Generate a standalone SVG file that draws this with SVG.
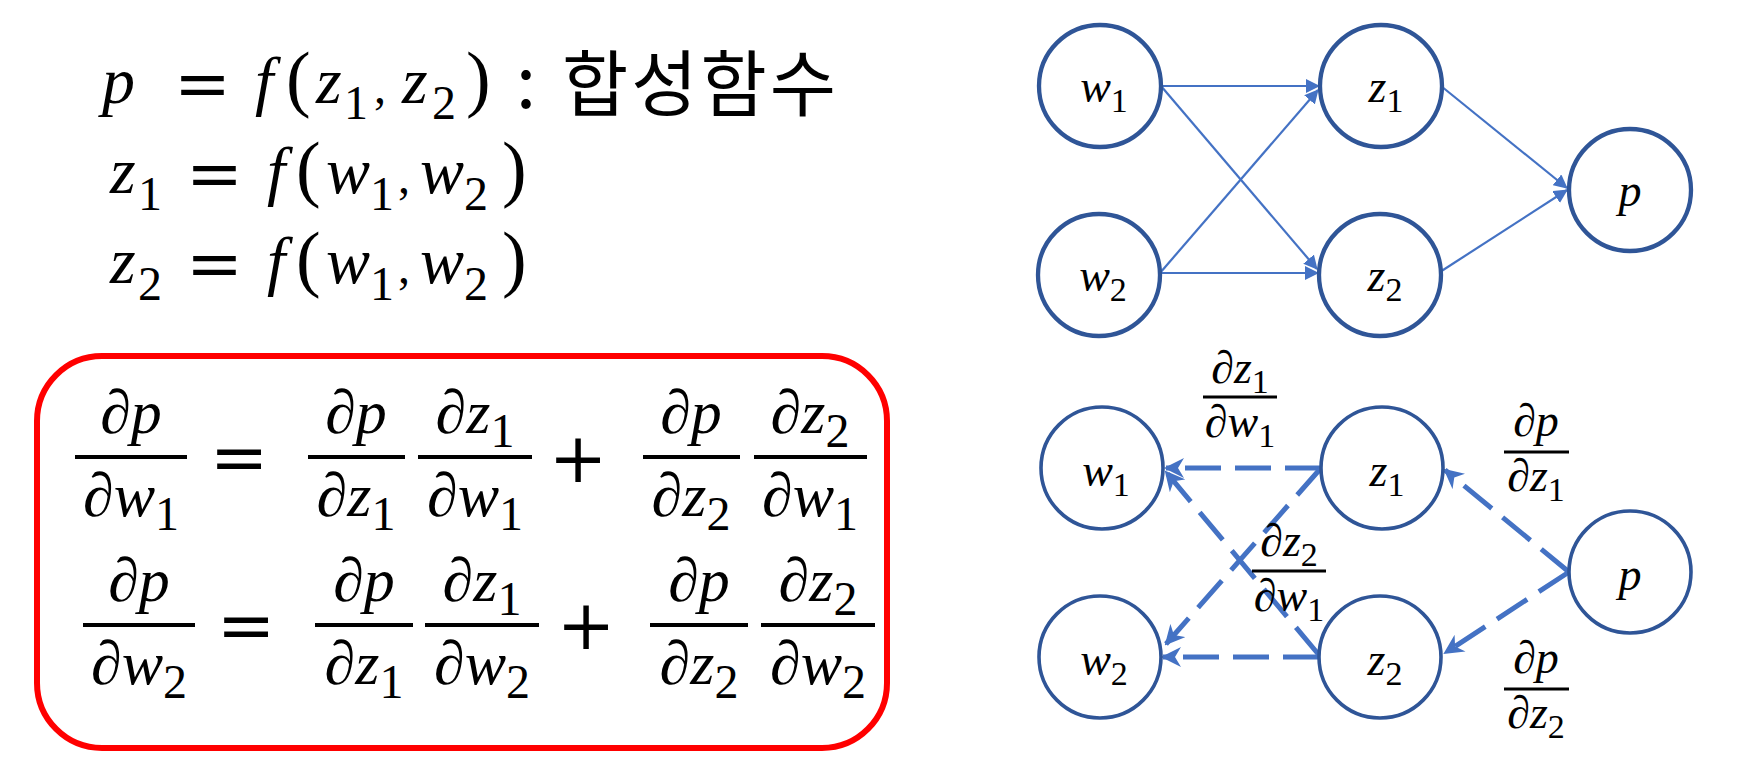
<svg xmlns="http://www.w3.org/2000/svg" width="1744" height="763" viewBox="0 0 1744 763">
<style>
.m{font-family:"Liberation Serif","Times New Roman",serif;fill:#000}
.i{font-style:italic}
.t1{font-size:66px}
.s1{font-size:48px;font-style:normal}
.pr{font-size:74px;font-style:normal}
.eq{font-family:"DejaVu Serif",serif;font-size:68px;font-style:normal}
.fr{font-size:62px}
.fs{font-size:46px}
.lb{font-size:46px}
.sb{font-size:34px;font-style:normal}
.kr{font-family:"Noto Sans CJK KR","Noto Sans",sans-serif;font-size:72px;fill:#000}
.node{fill:#fff;stroke:#2F5597}
.top .node{stroke-width:4.3}
.bot .node{stroke-width:3.6}
.e{fill:none;stroke:#4472C4;stroke-width:2.2}
.d{fill:none;stroke:#4472C4;stroke-width:5;stroke-dasharray:36 14}
.bar{stroke:#000;stroke-width:4}
.bar2{stroke:#000;stroke-width:3}
</style>
<defs>
<marker id="ah" markerUnits="userSpaceOnUse" markerWidth="14" markerHeight="14" refX="13" refY="7" orient="auto"><path d="M0,0 L14,7 L0,14 Z" fill="#4472C4"/></marker>
<marker id="ahd" markerUnits="userSpaceOnUse" markerWidth="20" markerHeight="20" refX="18" refY="10" orient="auto"><path d="M0,0 L20,10 L0,20 L6,10 Z" fill="#4472C4"/></marker>
</defs>
<rect width="1744" height="763" fill="#fff"/>

<g id="definitions" class="m t1">
<text class="m i t1"><tspan x="102" y="103">p</tspan><tspan class="eq" x="174" y="107">=</tspan><tspan x="255" y="103">f</tspan><tspan class="pr" x="286" y="103">(</tspan><tspan x="316" y="103">z</tspan><tspan class="s1" x="344" y="119">1</tspan><tspan class="s1" x="374" y="103">,</tspan><tspan x="402" y="103">z</tspan><tspan class="s1" x="432" y="119">2</tspan><tspan class="pr" x="466" y="103">)</tspan></text>
<text class="kr" x="516" y="108">:</text>
<text class="kr" x="562" y="110" letter-spacing="3">합성함수</text>
<text class="m i t1"><tspan x="110" y="193">z</tspan><tspan class="s1" x="138" y="210">1</tspan><tspan class="eq" x="186" y="197">=</tspan><tspan x="267" y="193">f</tspan><tspan class="pr" x="296" y="193">(</tspan><tspan x="326" y="193">w</tspan><tspan class="s1" x="370" y="210">1</tspan><tspan class="s1" x="398" y="193">,</tspan><tspan x="420" y="193">w</tspan><tspan class="s1" x="464" y="210">2</tspan><tspan class="pr" x="502" y="193">)</tspan></text>
<text class="m i t1"><tspan x="110" y="283">z</tspan><tspan class="s1" x="138" y="300">2</tspan><tspan class="eq" x="186" y="287">=</tspan><tspan x="267" y="283">f</tspan><tspan class="pr" x="296" y="283">(</tspan><tspan x="326" y="283">w</tspan><tspan class="s1" x="370" y="300">1</tspan><tspan class="s1" x="398" y="283">,</tspan><tspan x="420" y="283">w</tspan><tspan class="s1" x="464" y="300">2</tspan><tspan class="pr" x="502" y="283">)</tspan></text>
</g>

<g id="chain-rule-box">
<rect x="37" y="356" width="850" height="392" rx="65" ry="65" fill="none" stroke="#FF0000" stroke-width="6"/>
<g class="m fr i" text-anchor="middle">
<text x="131" y="433">∂p</text><text x="131" y="516">∂w<tspan class="s1" font-size="45" dy="14">1</tspan></text>
<text x="356" y="433">∂p</text><text x="356" y="516">∂z<tspan class="s1" font-size="45" dy="14">1</tspan></text>
<text x="475" y="433">∂z<tspan class="s1" font-size="45" dy="14">1</tspan></text><text x="475" y="516">∂w<tspan class="s1" font-size="45" dy="14">1</tspan></text>
<text x="691" y="433">∂p</text><text x="691" y="516">∂z<tspan class="s1" font-size="45" dy="14">2</tspan></text>
<text x="810" y="433">∂z<tspan class="s1" font-size="45" dy="14">2</tspan></text><text x="810" y="516">∂w<tspan class="s1" font-size="45" dy="14">1</tspan></text>
<text x="139" y="601">∂p</text><text x="139" y="684">∂w<tspan class="s1" font-size="45" dy="14">2</tspan></text>
<text x="364" y="601">∂p</text><text x="364" y="684">∂z<tspan class="s1" font-size="45" dy="14">1</tspan></text>
<text x="482" y="601">∂z<tspan class="s1" font-size="45" dy="14">1</tspan></text><text x="482" y="684">∂w<tspan class="s1" font-size="45" dy="14">2</tspan></text>
<text x="699" y="601">∂p</text><text x="699" y="684">∂z<tspan class="s1" font-size="45" dy="14">2</tspan></text>
<text x="818" y="601">∂z<tspan class="s1" font-size="45" dy="14">2</tspan></text><text x="818" y="684">∂w<tspan class="s1" font-size="45" dy="14">2</tspan></text>
</g>
<g font-family="DejaVu Serif,serif" text-anchor="middle" font-size="70" fill="#000">
<text x="239" y="481">=</text><text x="578" y="482">+</text>
<text x="246" y="649">=</text><text x="586" y="649">+</text>
</g>
<g class="bar">
<line x1="75" y1="457" x2="187" y2="457"/><line x1="308" y1="457" x2="405" y2="457"/><line x1="418" y1="457" x2="532" y2="457"/><line x1="643" y1="457" x2="740" y2="457"/><line x1="754" y1="457" x2="867" y2="457"/>
<line x1="83" y1="625" x2="195" y2="625"/><line x1="315" y1="625" x2="413" y2="625"/><line x1="425" y1="625" x2="539" y2="625"/><line x1="650" y1="625" x2="748" y2="625"/><line x1="761" y1="625" x2="875" y2="625"/>
</g>
</g>

<g id="forward-graph" class="top">
<g id="connectors-forward">
<path class="e" d="M1161,86 L1319,86" marker-end="url(#ah)"/>
<path class="e" d="M1161,86 L1317,269" marker-end="url(#ah)"/>
<path class="e" d="M1160,273 L1318,90" marker-end="url(#ah)"/>
<path class="e" d="M1160,273 L1318,273" marker-end="url(#ah)"/>
<path class="e" d="M1441,86 L1567,188" marker-end="url(#ah)"/>
<path class="e" d="M1440,272 L1567,190" marker-end="url(#ah)"/>
</g>
<g id="f-w1"><ellipse class="node" cx="1100" cy="86" rx="61" ry="61"/><text class="m lb i" x="1104" y="102" text-anchor="middle">w<tspan class="sb" dy="10">1</tspan></text></g>
<g id="f-w2"><ellipse class="node" cx="1099" cy="275" rx="61" ry="61"/><text class="m lb i" x="1103" y="291" text-anchor="middle">w<tspan class="sb" dy="10">2</tspan></text></g>
<g id="f-z1"><ellipse class="node" cx="1381" cy="86" rx="61" ry="61"/><text class="m lb i" x="1386" y="102" text-anchor="middle">z<tspan class="sb" dy="10">1</tspan></text></g>
<g id="f-z2"><ellipse class="node" cx="1380" cy="275" rx="61" ry="61"/><text class="m lb i" x="1385" y="291" text-anchor="middle">z<tspan class="sb" dy="10">2</tspan></text></g>
<g id="f-p"><ellipse class="node" cx="1630" cy="190" rx="61" ry="61"/><text class="m lb i" x="1630" y="206" text-anchor="middle">p</text></g>
</g>

<g id="backward-graph" class="bot">
<g id="connectors-backward">
<path class="d" d="M1321,468 L1166,468" marker-end="url(#ahd)"/>
<path class="d" d="M1319,657 L1163,657" marker-end="url(#ahd)"/>
<path class="d" d="M1321,468 L1166,644" marker-end="url(#ahd)"/>
<path class="d" d="M1319,655 L1166,472" marker-end="url(#ahd)"/>
<path class="d" d="M1569,572 L1445,470" marker-end="url(#ahd)"/>
<path class="d" d="M1569,572 L1445,653" marker-end="url(#ahd)"/>
</g>
<g id="b-w1"><ellipse class="node" cx="1102" cy="468" rx="61" ry="61"/><text class="m lb i" x="1106" y="486" text-anchor="middle">w<tspan class="sb" dy="10">1</tspan></text></g>
<g id="b-w2"><ellipse class="node" cx="1100" cy="657" rx="61" ry="61"/><text class="m lb i" x="1104" y="675" text-anchor="middle">w<tspan class="sb" dy="10">2</tspan></text></g>
<g id="b-z1"><ellipse class="node" cx="1382" cy="468" rx="61" ry="61"/><text class="m lb i" x="1387" y="486" text-anchor="middle">z<tspan class="sb" dy="10">1</tspan></text></g>
<g id="b-z2"><ellipse class="node" cx="1380" cy="657" rx="61" ry="61"/><text class="m lb i" x="1385" y="675" text-anchor="middle">z<tspan class="sb" dy="10">2</tspan></text></g>
<g id="b-p"><ellipse class="node" cx="1630" cy="572" rx="61" ry="61"/><text class="m lb i" x="1630" y="590" text-anchor="middle">p</text></g>
<g id="edge-labels" class="m fs i" text-anchor="middle">
<text x="1240" y="383">∂z<tspan class="sb" dy="10">1</tspan></text><text x="1240" y="437">∂w<tspan class="sb" dy="10">1</tspan></text>
<text x="1536" y="436">∂p</text><text x="1536" y="491">∂z<tspan class="sb" dy="10">1</tspan></text>
<text x="1289" y="556">∂z<tspan class="sb" dy="10">2</tspan></text><text x="1289" y="611">∂w<tspan class="sb" dy="10">1</tspan></text>
<text x="1536" y="673">∂p</text><text x="1536" y="728">∂z<tspan class="sb" dy="10">2</tspan></text>
</g>
<g class="bar2">
<line x1="1203" y1="397" x2="1277" y2="397"/>
<line x1="1504" y1="452" x2="1569" y2="452"/>
<line x1="1252" y1="571" x2="1326" y2="571"/>
<line x1="1504" y1="689" x2="1569" y2="689"/>
</g>
</g>
</svg>
